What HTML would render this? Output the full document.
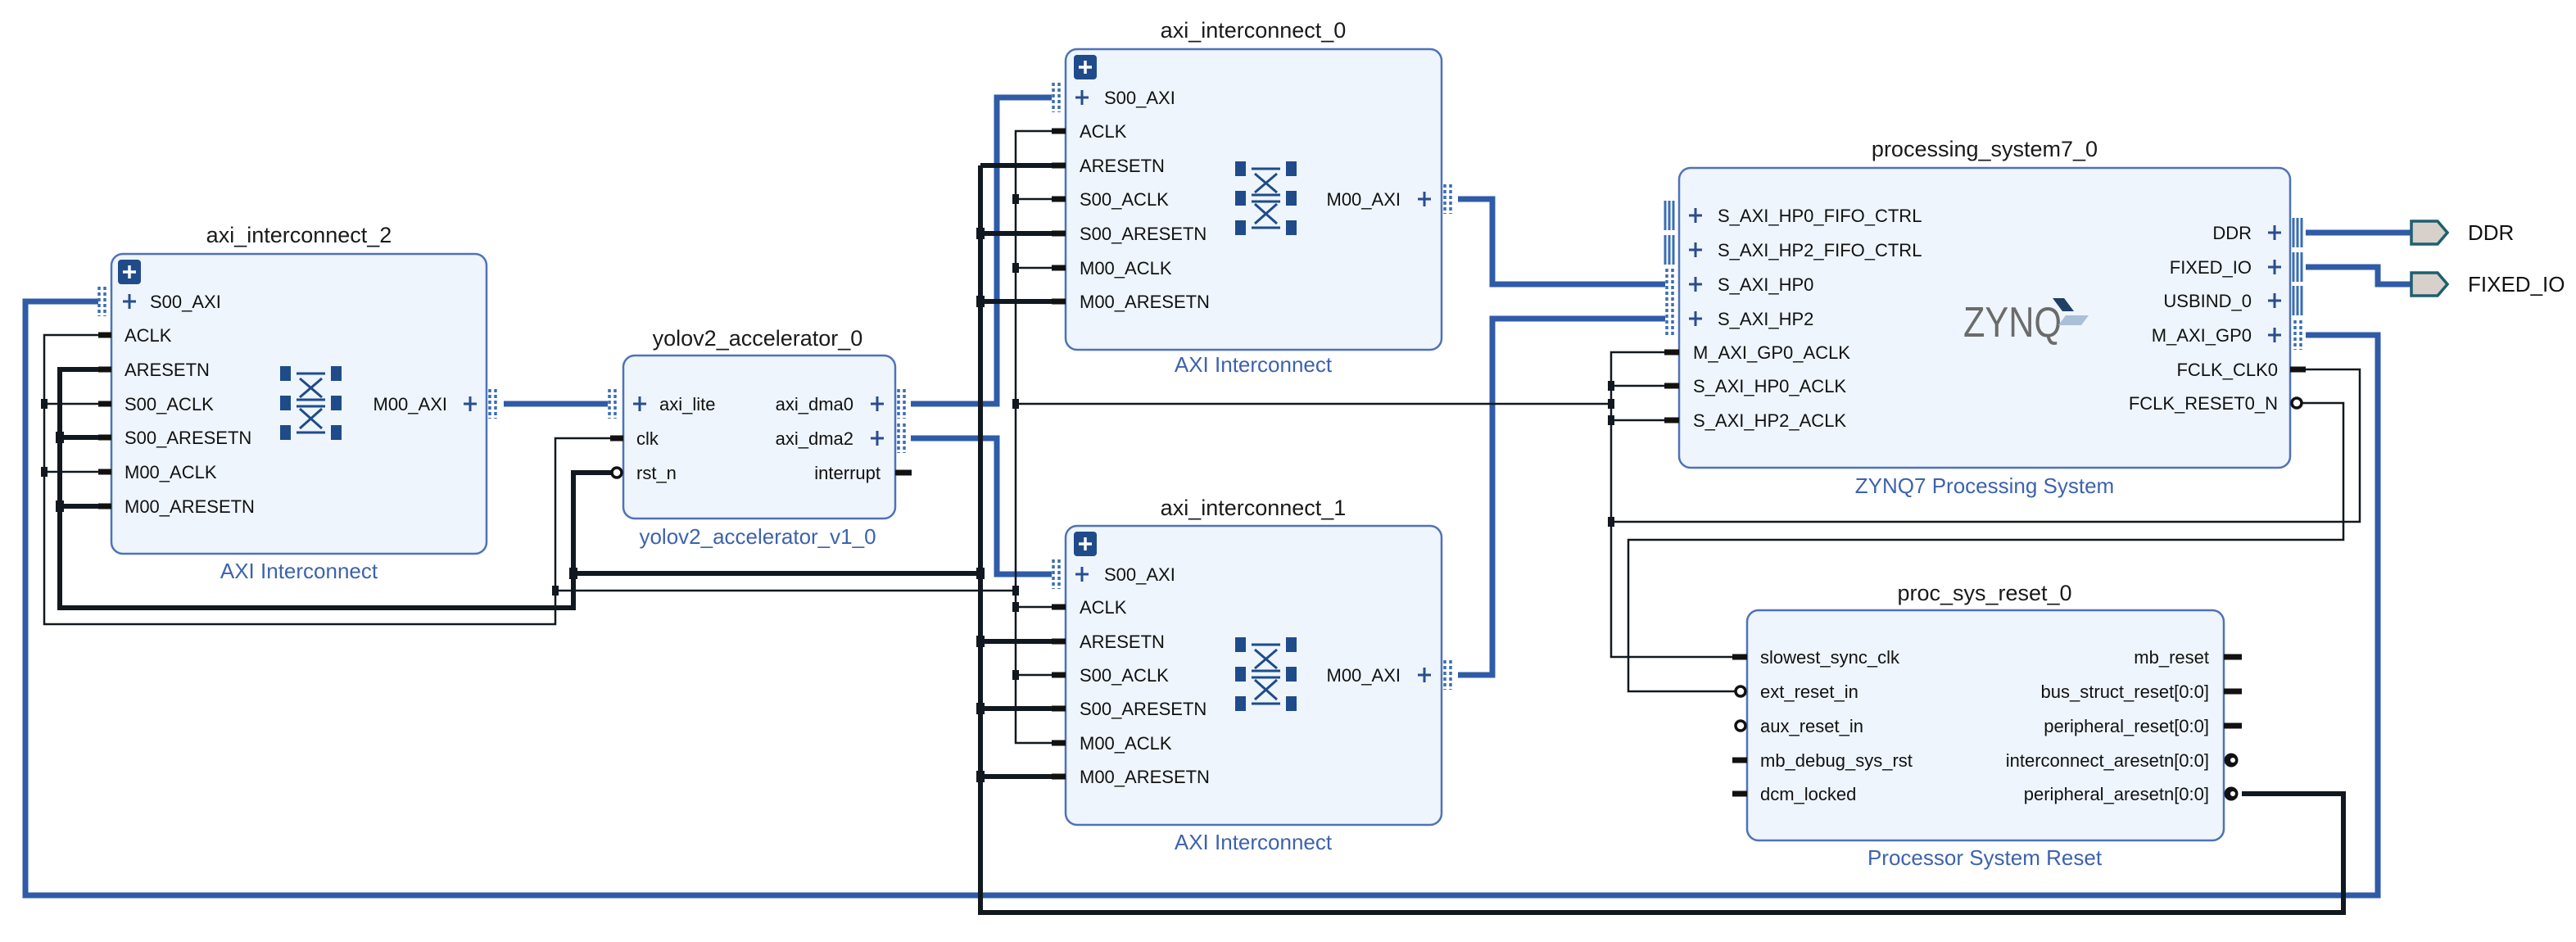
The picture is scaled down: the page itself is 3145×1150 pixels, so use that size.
<!DOCTYPE html>
<html><head><meta charset="utf-8"><style>
html,body{margin:0;padding:0;background:#fff;}
svg{display:block;font-family:"Liberation Sans",sans-serif;}
.t{font-size:27px;fill:#1a1a1a;text-anchor:middle;}
.s{font-size:26px;fill:#3d62ae;text-anchor:middle;}
.p{font-size:22px;fill:#111;}
.r{font-size:22px;fill:#111;text-anchor:end;}
.box{fill:#eef5fc;stroke:#4f72b8;stroke-width:2.5;}
.bus{fill:none;stroke:#2f5ba7;stroke-width:7;}
.thk{fill:none;stroke:#111820;stroke-width:6;}
.thn{fill:none;stroke:#111820;stroke-width:2.5;}
.stub{stroke:#111;stroke-width:7;}
.pl{stroke:#2a4d8f;stroke-width:3;}
.dc{stroke:#3a6db5;stroke-width:3.5;stroke-dasharray:4 3;}
.sc{stroke:#3a6db5;stroke-width:3;}
</style></head><body>
<svg width="3145" height="1150" viewBox="0 0 3145 1150" xmlns="http://www.w3.org/2000/svg">
<defs>
<g id="ico">
<rect x="0" y="0" width="13" height="18" fill="#1f4b8a"/><rect x="62" y="0" width="13" height="18" fill="#1f4b8a"/>
<rect x="0" y="36" width="13" height="18" fill="#1f4b8a"/><rect x="62" y="36" width="13" height="18" fill="#1f4b8a"/>
<rect x="0" y="72" width="13" height="18" fill="#1f4b8a"/><rect x="62" y="72" width="13" height="18" fill="#1f4b8a"/>
<path d="M20 9H55M20 41H55M20 49H55M20 81H55M24 15L51 38M51 15L24 38M24 52L51 76M51 52L24 76" stroke="#1f4b8a" stroke-width="3" fill="none"/>
</g>
<g id="pb"><rect x="0" y="0" width="28" height="30" rx="4" fill="#1f4b8a"/><path d="M14 7V23M6 15H22" stroke="#fff" stroke-width="3.5"/></g>
<g id="plus"><path d="M-8 0H8M0 -9V9" class="pl"/></g>
<g id="dcl"><path d="M0 -18V18M7 -18V18" class="dc"/></g>
<g id="scl"><path d="M0 -18V18M5 -18V18M10 -18V18" class="sc"/></g>
<g id="bub"><circle cx="0" cy="0" r="6" fill="#fff" stroke="#111" stroke-width="3.5"/></g>
<g id="fbub"><circle cx="0" cy="0" r="8.5" fill="#111"/><circle cx="2" cy="0" r="3" fill="#fff"/></g>
</defs>

<!-- WIRES -->
<path class="bus" d="M120,368 H31 V1093 H2903 V409 H2815"/>
<path class="bus" d="M615,493 H742"/>
<path class="bus" d="M1112,493 H1217 V119 H1284"/>
<path class="bus" d="M1112,535 H1217 V701 H1284"/>
<path class="bus" d="M1780,243 H1822 V347 H2033"/>
<path class="bus" d="M1780,824 H1822 V389 H2033"/>
<path class="bus" d="M2815,284 H2944"/>
<path class="bus" d="M2815,326 H2903 V347 H2944"/>

<path class="thk" d="M122,451 H73 V742 H700 V577 H748"/>
<path class="thk" d="M73,534 H122 M73,618 H122"/>
<path class="thk" d="M700,700 H1197"/>
<path class="thk" d="M1197,202 V1114 H2861 V969 H2737"/>
<path class="thk" d="M1197,202 H1290 M1197,285 H1290 M1197,368 H1290 M1197,783 H1290 M1197,865 H1290 M1197,948 H1290"/>

<path class="thn" d="M136,409 H54 V762 H678 V535 H761"/>
<path class="thn" d="M54,493 H136 M54,576 H136"/>
<path class="thn" d="M678,721 H1240"/>
<path class="thn" d="M1301,160 H1240 V907 H1301 M1240,243 H1301 M1240,327 H1301 M1240,741 H1301 M1240,824 H1301"/>
<path class="thn" d="M1240,493 H1967"/>
<path class="thn" d="M2050,430 H1967 V802 H2133 M1967,471 H2050 M1967,513 H2050 M1967,637 H2881 V451 H2797"/>
<path class="thn" d="M2797,492 H2861 V659 H1988 V844 H2125"/>

<!-- junctions -->
<g fill="#111820">
<rect x="68" y="527" width="10" height="14"/><rect x="68" y="611" width="10" height="14"/>
<rect x="50" y="487" width="8" height="12"/><rect x="50" y="570" width="8" height="12"/>
<rect x="695" y="693" width="10" height="14"/><rect x="674" y="715" width="8" height="12"/>
<rect x="1192" y="278" width="10" height="14"/><rect x="1192" y="361" width="10" height="14"/>
<rect x="1192" y="693" width="10" height="14"/><rect x="1192" y="776" width="10" height="14"/>
<rect x="1192" y="858" width="10" height="14"/><rect x="1192" y="941" width="10" height="14"/>
<rect x="1236" y="237" width="8" height="12"/><rect x="1236" y="321" width="8" height="12"/>
<rect x="1236" y="487" width="8" height="12"/><rect x="1236" y="715" width="8" height="12"/>
<rect x="1236" y="735" width="8" height="12"/><rect x="1236" y="818" width="8" height="12"/>
<rect x="1963" y="465" width="8" height="12"/><rect x="1963" y="487" width="8" height="12"/>
<rect x="1963" y="507" width="8" height="12"/><rect x="1963" y="631" width="8" height="12"/>
</g>

<!-- axi_interconnect_2 -->
<text class="t" x="365" y="296">axi_interconnect_2</text>
<rect class="box" x="136" y="310" width="458" height="366" rx="14"/>
<use href="#pb" x="144" y="317"/>
<use href="#dcl" x="121" y="368"/>
<use href="#plus" x="158" y="368"/>
<text class="p" x="183" y="376">S00_AXI</text>
<g class="stub"><path d="M120 409H136M120 451H136M120 493H136M120 534H136M120 576H136M120 618H136"/></g>
<text class="p" x="152" y="417">ACLK</text>
<text class="p" x="152" y="459">ARESETN</text>
<text class="p" x="152" y="501">S00_ACLK</text>
<text class="p" x="152" y="542">S00_ARESETN</text>
<text class="p" x="152" y="584">M00_ACLK</text>
<text class="p" x="152" y="626">M00_ARESETN</text>
<use href="#ico" x="342" y="447"/>
<text class="r" x="546" y="501">M00_AXI</text>
<use href="#plus" x="574" y="493"/>
<use href="#dcl" x="598" y="493"/>
<text class="s" x="365" y="706">AXI Interconnect</text>

<!-- yolov2 -->
<text class="t" x="925" y="422">yolov2_accelerator_0</text>
<rect class="box" x="761" y="434" width="332" height="199" rx="14"/>
<use href="#dcl" x="744" y="493"/>
<use href="#plus" x="781" y="493"/>
<text class="p" x="805" y="501">axi_lite</text>
<g class="stub"><path d="M745 535H761M1093 577H1113"/></g>
<text class="p" x="777" y="543">clk</text>
<use href="#bub" x="753" y="577"/>
<text class="p" x="777" y="585">rst_n</text>
<text class="r" x="1042" y="501">axi_dma0</text>
<text class="r" x="1042" y="543">axi_dma2</text>
<text class="r" x="1075" y="585">interrupt</text>
<use href="#plus" x="1071" y="493"/><use href="#plus" x="1071" y="535"/>
<use href="#dcl" x="1097" y="493"/><use href="#dcl" x="1097" y="535"/>
<text class="s" x="925" y="664">yolov2_accelerator_v1_0</text>

<!-- axi_interconnect_0 -->
<text class="t" x="1530" y="46">axi_interconnect_0</text>
<rect class="box" x="1301" y="60" width="459" height="367" rx="14"/>
<use href="#pb" x="1311" y="67"/>
<use href="#dcl" x="1286" y="119"/>
<use href="#plus" x="1321" y="119"/>
<text class="p" x="1348" y="127">S00_AXI</text>
<g class="stub"><path d="M1284 160H1301M1284 202H1301M1284 243H1301M1284 285H1301M1284 327H1301M1284 368H1301"/></g>
<text class="p" x="1318" y="168">ACLK</text>
<text class="p" x="1318" y="210">ARESETN</text>
<text class="p" x="1318" y="251">S00_ACLK</text>
<text class="p" x="1318" y="293">S00_ARESETN</text>
<text class="p" x="1318" y="335">M00_ACLK</text>
<text class="p" x="1318" y="376">M00_ARESETN</text>
<use href="#ico" x="1508" y="197"/>
<text class="r" x="1710" y="251">M00_AXI</text>
<use href="#plus" x="1739" y="243"/>
<use href="#dcl" x="1764" y="243"/>
<text class="s" x="1530" y="454">AXI Interconnect</text>

<!-- axi_interconnect_1 -->
<text class="t" x="1530" y="629">axi_interconnect_1</text>
<rect class="box" x="1301" y="642" width="459" height="365" rx="14"/>
<use href="#pb" x="1311" y="649"/>
<use href="#dcl" x="1286" y="701"/>
<use href="#plus" x="1321" y="701"/>
<text class="p" x="1348" y="709">S00_AXI</text>
<g class="stub"><path d="M1284 741H1301M1284 783H1301M1284 824H1301M1284 865H1301M1284 907H1301M1284 948H1301"/></g>
<text class="p" x="1318" y="749">ACLK</text>
<text class="p" x="1318" y="791">ARESETN</text>
<text class="p" x="1318" y="832">S00_ACLK</text>
<text class="p" x="1318" y="873">S00_ARESETN</text>
<text class="p" x="1318" y="915">M00_ACLK</text>
<text class="p" x="1318" y="956">M00_ARESETN</text>
<use href="#ico" x="1508" y="778"/>
<text class="r" x="1710" y="832">M00_AXI</text>
<use href="#plus" x="1739" y="824"/>
<use href="#dcl" x="1764" y="824"/>
<text class="s" x="1530" y="1037">AXI Interconnect</text>

<!-- processing_system7_0 -->
<text class="t" x="2423" y="191">processing_system7_0</text>
<rect class="box" x="2050" y="205" width="746" height="366" rx="14"/>
<use href="#scl" x="2033" y="263"/><use href="#scl" x="2033" y="305"/>
<path d="M2035 328V410M2042 328V410" class="dc"/>
<use href="#plus" x="2070" y="263"/><use href="#plus" x="2070" y="305"/>
<use href="#plus" x="2070" y="347"/><use href="#plus" x="2070" y="389"/>
<text class="p" x="2097" y="271">S_AXI_HP0_FIFO_CTRL</text>
<text class="p" x="2097" y="313">S_AXI_HP2_FIFO_CTRL</text>
<text class="p" x="2097" y="355">S_AXI_HP0</text>
<text class="p" x="2097" y="397">S_AXI_HP2</text>
<g class="stub"><path d="M2032 430H2050M2032 471H2050M2032 513H2050M2796 451H2815"/></g>
<text class="p" x="2067" y="438">M_AXI_GP0_ACLK</text>
<text class="p" x="2067" y="479">S_AXI_HP0_ACLK</text>
<text class="p" x="2067" y="521">S_AXI_HP2_ACLK</text>
<text x="2397" y="411" textLength="120" lengthAdjust="spacingAndGlyphs" style="font-size:52px;fill:#6b6b6b">ZYNQ</text>
<path d="M2506 364L2520 364L2532 380L2518 380Z" fill="#1e3f66"/>
<path d="M2522 385L2550 385L2541 397L2513 397Z" fill="#a9c0d6"/>
<text class="r" x="2749" y="292">DDR</text>
<text class="r" x="2749" y="334">FIXED_IO</text>
<text class="r" x="2749" y="375">USBIND_0</text>
<text class="r" x="2749" y="417">M_AXI_GP0</text>
<text class="r" x="2781" y="459">FCLK_CLK0</text>
<text class="r" x="2781" y="500">FCLK_RESET0_N</text>
<use href="#plus" x="2777" y="284"/><use href="#plus" x="2777" y="326"/>
<use href="#plus" x="2777" y="367"/><use href="#plus" x="2777" y="409"/>
<use href="#scl" x="2800" y="284"/><use href="#scl" x="2800" y="326"/><use href="#scl" x="2800" y="367"/>
<use href="#dcl" x="2802" y="409"/>
<use href="#bub" x="2804" y="492"/>
<text class="s" x="2423" y="602">ZYNQ7 Processing System</text>

<!-- external ports -->
<path d="M2944 270H2976L2988 284L2976 298H2944Z" fill="#d8d0ca" stroke="#1f5f6f" stroke-width="3.5"/>
<text x="3013" y="293" style="font-size:26px;fill:#111">DDR</text>
<path d="M2944 333H2976L2988 347L2976 361H2944Z" fill="#d8d0ca" stroke="#1f5f6f" stroke-width="3.5"/>
<text x="3013" y="356" style="font-size:26px;fill:#111">FIXED_IO</text>

<!-- proc_sys_reset_0 -->
<text class="t" x="2423" y="733">proc_sys_reset_0</text>
<rect class="box" x="2133" y="745" width="582" height="281" rx="14"/>
<g class="stub"><path d="M2115 802H2133M2115 928H2133M2115 969H2133M2715 802H2737M2715 844H2737M2715 886H2737"/></g>
<use href="#bub" x="2125" y="844"/><use href="#bub" x="2125" y="886"/>
<use href="#fbub" x="2724" y="928"/><use href="#fbub" x="2724" y="969"/>
<text class="p" x="2149" y="810">slowest_sync_clk</text>
<text class="p" x="2149" y="852">ext_reset_in</text>
<text class="p" x="2149" y="894">aux_reset_in</text>
<text class="p" x="2149" y="936">mb_debug_sys_rst</text>
<text class="p" x="2149" y="977">dcm_locked</text>
<text class="r" x="2697" y="810">mb_reset</text>
<text class="r" x="2697" y="852">bus_struct_reset[0:0]</text>
<text class="r" x="2697" y="894">peripheral_reset[0:0]</text>
<text class="r" x="2697" y="936">interconnect_aresetn[0:0]</text>
<text class="r" x="2697" y="977">peripheral_aresetn[0:0]</text>
<text class="s" x="2423" y="1056">Processor System Reset</text>
</svg>
</body></html>
